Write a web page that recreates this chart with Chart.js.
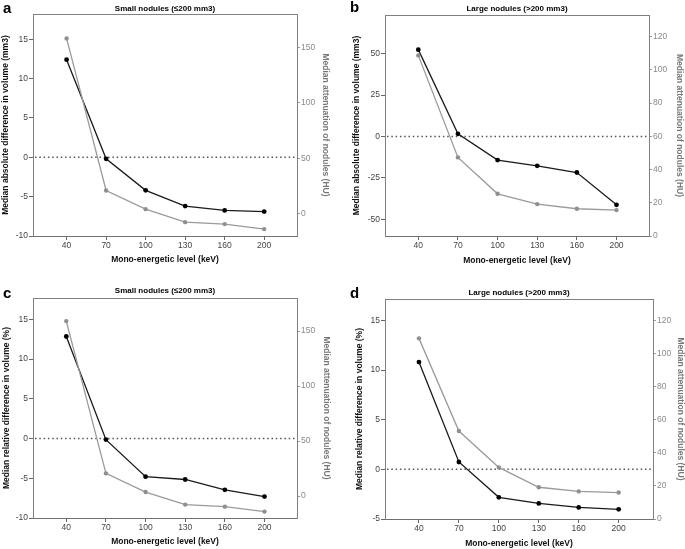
<!DOCTYPE html>
<html>
<head>
<meta charset="utf-8">
<script src="https://cdn.jsdelivr.net/npm/chart.js@4.4.1/dist/chart.umd.min.js"></script>
<style>
  body { margin: 0; background: #fff; }
  #wrap { position: relative; width: 685px; height: 549px; }
  .panel { position: absolute; }
</style>
</head>
<body>
<div id="wrap">
  <div class="panel" style="left:0;top:0;width:342px;height:270px"><canvas id="chartA"></canvas></div>
  <div class="panel" style="left:342px;top:0;width:343px;height:270px"><canvas id="chartB"></canvas></div>
  <div class="panel" style="left:0;top:270px;width:342px;height:279px"><canvas id="chartC"></canvas></div>
  <div class="panel" style="left:342px;top:270px;width:343px;height:279px"><canvas id="chartD"></canvas></div>
</div>
<script>
// x categories (mono-energetic level, keV)
const energyLevels = ['40', '70', '100', '130', '160', '200'];

// a: small nodules, absolute difference (mm3) + attenuation (HU)
const smallAbsDiff = [12.4, -0.2, -4.2, -6.2, -6.75, -6.9];
const smallAbsHU = [158, 21, 4.2, -7.5, -9.3, -13.8];
// b: large nodules, absolute difference (mm3) + attenuation (HU)
const largeAbsDiff = [52.4, 1.6, -14.2, -17.7, -21.7, -41.2];
const largeAbsHU = [108.7, 47.3, 25.4, 19.2, 16.4, 15.6];
// c: small nodules, relative difference (%) + attenuation (HU)
const smallRelDiff = [12.85, -0.13, -4.8, -5.15, -6.45, -7.3];
const smallRelHU = [159, 20.6, 3.6, -7.8, -9.7, -14.2];
// d: large nodules, relative difference (%) + attenuation (HU)
const largeRelDiff = [10.8, 0.74, -2.82, -3.43, -3.83, -4.03];
const largeRelHU = [109.2, 53.2, 31.2, 19.2, 16.7, 16];

// tick values
const smallDiffTicks = [-10, -5, 0, 5, 10, 15];
const largeAbsTicks = [-50, -25, 0, 25, 50];
const largeRelTicks = [-5, 0, 5, 10, 15];
const smallHUTicks = [0, 50, 100, 150];
const largeHUTicks = [0, 20, 40, 60, 80, 100, 120];

const FONT = "'Liberation Sans Narrow', 'Liberation Sans', Arial, sans-serif";

const panelDecor = {
  id: 'panelDecor',
  beforeDatasetsDraw(chart) {
    const { ctx, chartArea, scales } = chart;
    const y0 = scales.y.getPixelForValue(0);
    ctx.save();
    ctx.strokeStyle = '#555';
    ctx.lineWidth = 1.5;
    ctx.setLineDash([1.5, 2.8]);
    ctx.beginPath();
    ctx.moveTo(chartArea.left + 2, y0);
    ctx.lineTo(chartArea.right, y0);
    ctx.stroke();
    ctx.restore();
  },
  afterDraw(chart, args, opts) {
    const { ctx, chartArea } = chart;
    ctx.save();
    ctx.strokeStyle = '#808080';
    ctx.lineWidth = 1;
    ctx.beginPath();
    ctx.moveTo(chartArea.left, chartArea.top + 0.5);
    ctx.lineTo(chartArea.right, chartArea.top + 0.5);
    ctx.stroke();

    ctx.fillStyle = '#000';
    ctx.font = 'bold 15px Arial, sans-serif';
    ctx.textAlign = 'left';
    ctx.textBaseline = 'alphabetic';
    ctx.fillText(opts.letter, opts.letterX, opts.letterY);

    ctx.font = 'bold 8px ' + FONT;
    ctx.textAlign = 'center';
    ctx.textBaseline = 'middle';
    ctx.fillText(opts.title, (chartArea.left + chartArea.right) / 2, opts.titleY);
    ctx.restore();
  }
};

function buildPanel(canvasId, p) {
  const ctx = document.getElementById(canvasId).getContext('2d');
  const toPoints = arr => arr.map((v, i) => ({ x: i, y: v }));
  new Chart(ctx, {
    type: 'line',
    data: {
      datasets: [
        {
          data: toPoints(p.hu),
          yAxisID: 'y1',
          borderColor: '#9a9a9a',
          backgroundColor: '#8f8f8f',
          borderWidth: 1.3,
          pointRadius: 2.2,
          pointBorderWidth: 0
        },
        {
          data: toPoints(p.diff),
          yAxisID: 'y',
          borderColor: '#1a1a1a',
          backgroundColor: '#000',
          borderWidth: 1.3,
          pointRadius: 2.4,
          pointBorderWidth: 0
        }
      ]
    },
    options: {
      responsive: true,
      maintainAspectRatio: false,
      animation: false,
      layout: { padding: { top: p.top, left: 0, right: 0, bottom: 0 } },
      plugins: {
        legend: { display: false },
        tooltip: { enabled: false },
        panelDecor: { letter: p.letter, letterX: p.letterX, letterY: p.letterY, title: p.title, titleY: p.titleY }
      },
      scales: {
        x: {
          type: 'linear',
          min: p.xMin,
          max: p.xMax,
          afterBuildTicks: s => { s.ticks = energyLevels.map((_, i) => ({ value: i })); },
          afterFit: s => { s.height = p.bottomH; },
          ticks: {
            callback: v => energyLevels[v],
            color: '#444',
            font: { family: FONT, size: 8.5 },
            padding: 1,
            maxRotation: 0
          },
          grid: { drawOnChartArea: false, tickLength: 4, color: '#666' },
          border: { color: '#707070' },
          title: {
            display: true,
            text: 'Mono-energetic level (keV)',
            color: '#111',
            font: { family: FONT, size: 8.5, weight: 'bold' },
            padding: { top: 0, bottom: p.xTitlePad }
          }
        },
        y: {
          position: 'left',
          min: p.yMin,
          max: p.yMax,
          afterBuildTicks: s => { s.ticks = p.yTicks.map(v => ({ value: v })); },
          afterFit: s => { s.width = p.leftW; },
          ticks: { color: '#444', font: { family: FONT, size: 8.5 }, padding: 1 },
          grid: { drawOnChartArea: false, tickLength: 4, color: '#666' },
          border: { color: '#808080' },
          title: {
            display: true,
            text: p.leftTitle,
            color: '#111',
            font: { family: FONT, size: 8.5, weight: 'bold' },
            padding: { top: p.leftTitlePad, bottom: 0 }
          }
        },
        y1: {
          position: 'right',
          min: p.y1Min,
          max: p.y1Max,
          afterBuildTicks: s => { s.ticks = p.y1Ticks.map(v => ({ value: v })); },
          afterFit: s => { s.width = p.rightW; },
          ticks: { color: '#8a8a8a', font: { family: FONT, size: 8.5 }, padding: 1 },
          grid: { drawOnChartArea: false, tickLength: 3, color: '#9a9a9a' },
          border: { color: '#808080' },
          title: {
            display: true,
            text: 'Median attenuation of nodules (HU)',
            color: '#777',
            font: { family: FONT, size: 8.5, weight: 'bold' },
            padding: { top: p.rightTitlePad, bottom: 0 }
          }
        }
      }
    },
    plugins: [panelDecor]
  });
}

buildPanel('chartA', {
  letter: 'a', letterX: 3, letterY: 12.5,
  title: 'Small nodules (\u2264200 mm3)', titleY: 9,
  diff: smallAbsDiff, hu: smallAbsHU,
  leftTitle: 'Median absolute difference in volume (mm3)',
  yMin: -10, yMax: 18.2, yTicks: smallDiffTicks,
  y1Min: -20, y1Max: 180, y1Ticks: smallHUTicks,
  xMin: -0.85, xMax: 5.83,
  top: 14, leftW: 33, rightW: 45, bottomH: 34,
  leftTitlePad: 1, rightTitlePad: 11.5, xTitlePad: 5.5
});

buildPanel('chartB', {
  letter: 'b', letterX: 8, letterY: 12,
  title: 'Large nodules (>200 mm3)', titleY: 9,
  diff: largeAbsDiff, hu: largeAbsHU,
  leftTitle: 'Median absolute difference in volume (mm3)',
  yMin: -60, yMax: 73.3, yTicks: largeAbsTicks,
  y1Min: 0, y1Max: 133, y1Ticks: largeHUTicks,
  xMin: -0.84, xMax: 5.82,
  top: 15, leftW: 43, rightW: 36, bottomH: 34,
  leftTitlePad: 10, rightTitlePad: 1, xTitlePad: 4.5
});

buildPanel('chartC', {
  letter: 'c', letterX: 3, letterY: 28.3,
  title: 'Small nodules (\u2264200 mm3)', titleY: 20.7,
  diff: smallRelDiff, hu: smallRelHU,
  leftTitle: 'Median relative difference in volume (%)',
  yMin: -10, yMax: 17.7, yTicks: smallDiffTicks,
  y1Min: -20, y1Max: 180, y1Ticks: smallHUTicks,
  xMin: -0.84, xMax: 5.82,
  top: 28, leftW: 33, rightW: 45, bottomH: 31,
  leftTitlePad: 1.5, rightTitlePad: 10.5, xTitlePad: 2
});

buildPanel('chartD', {
  letter: 'd', letterX: 8, letterY: 28.3,
  title: 'Large nodules (>200 mm3)', titleY: 22.7,
  diff: largeRelDiff, hu: largeRelHU,
  leftTitle: 'Median relative difference in volume (%)',
  yMin: -5, yMax: 17.15, yTicks: largeRelTicks,
  y1Min: 0, y1Max: 133, y1Ticks: largeHUTicks,
  xMin: -0.85, xMax: 5.86,
  top: 29, leftW: 43, rightW: 32, bottomH: 30,
  leftTitlePad: 12.5, rightTitlePad: 0, xTitlePad: 0.5
});
</script>
</body>
</html>
